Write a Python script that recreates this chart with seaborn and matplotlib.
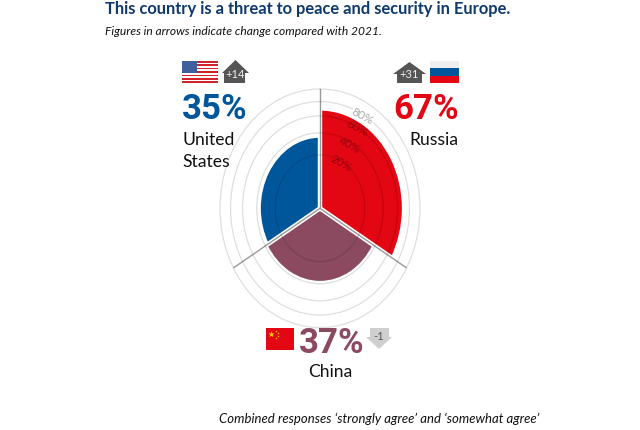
import numpy as np
import pandas as pd
import matplotlib
matplotlib.use("Agg")
import matplotlib.pyplot as plt
from matplotlib.patches import Polygon, Rectangle
import seaborn as sns

countries = ["Russia", "China", "United States"]
shares = [67, 37, 35]
changes = ["+31", "-1", "+14"]
bar_colors = ["#e30613", "#8b4a60", "#00569b"]
sector_centres = [60, 180, 300]
spoke_angles = [0, 120, 240]
ring_values = [20, 40, 60, 80, 100]
ring_labels = ["20%", "40%", "60%", "80%"]
label_radius = [19, 36.5, 59, 77]

title = "This country is a threat to peace and security in Europe."
subtitle = "Figures in arrows indicate change compared with 2021."
footer = "Combined responses \u2018strongly agree\u2019 and \u2018somewhat agree\u2019"

sns.set_theme(style="white")
plt.rcParams["font.family"] = ["Lato", "DejaVu Sans"]

df = pd.DataFrame({
    "theta": np.deg2rad(sector_centres),
    "share": shares,
    "country": countries,
})

fig = plt.figure(figsize=(6.4, 4.3), dpi=100)

# the original is stretched, so the polar axes is not kept round
ax = fig.add_axes([220 / 640, (430 - 327.6) / 430, 200 / 640, 238.6 / 430], projection="polar")
ax.set_aspect("auto")
ax.set_theta_zero_location("N")
ax.set_theta_direction(-1)
ax.set_rscale("function", functions=(np.sqrt, np.square))

sns.barplot(data=df, x="theta", y="share", hue="country", hue_order=countries,
            palette=dict(zip(countries, bar_colors)), native_scale=True, width=1,
            saturation=1, edgecolor="none", linewidth=0, legend=False, ax=ax)

ax.set_xlabel("")
ax.set_ylabel("")
ax.set_xlim(0, 2 * np.pi)
ax.set_ylim(0, 100)
ax.set_xticks(np.deg2rad(spoke_angles))
ax.set_yticks(ring_values)
ax.set_xticklabels([])
ax.set_yticklabels([])
ax.set_axisbelow(False)
ax.xaxis.grid(True, color="#9a9a9a", lw=1.0)
ax.yaxis.grid(True, color="black", alpha=0.13, lw=0.9)
for line in ax.yaxis.get_gridlines():
    line.set_clip_on(False)
ax.spines["polar"].set_visible(False)
ax.patch.set_alpha(0)

# white gap either side of each spoke
for a in spoke_angles:
    ax.plot([np.deg2rad(a)] * 2, [0, 100], color="white", lw=3.2, zorder=2.2, solid_capstyle="butt")

for r, lab in zip(label_radius, ring_labels):
    if lab == "80%":
        ax.text(np.deg2rad(29), r, lab, rotation=-28, ha="center", va="center", fontsize=8.5,
                color="#a8a8a8", rotation_mode="anchor", zorder=5,
                bbox=dict(fc="white", ec="none", pad=0.6))
    else:
        ax.text(np.deg2rad(29), r, lab, rotation=-28, ha="center", va="center", fontsize=8.5,
                color="black", alpha=0.33, rotation_mode="anchor", zorder=5)

# overlay in pixels for the texts, flags and arrows
over = fig.add_axes([0, 0, 1, 1], zorder=3)
over.set_xlim(0, 640)
over.set_ylim(430, 0)
over.axis("off")
over.patch.set_alpha(0)

over.text(105, 14, title, fontsize=11.9, fontweight="bold", color="#0f3a6e")
over.text(105, 35, subtitle, fontsize=8.65, style="italic", color="#111111")
over.text(219, 423, footer, fontsize=9.45, style="italic", color="#111111")


def big(x, y, s, color, ha):
    over.text(x, y, s, fontsize=25, fontweight="bold", color=color, ha=ha, family="Roboto")


big(182, 119, f"{shares[2]}%", bar_colors[2], "left")
big(459, 119, f"{shares[0]}%", bar_colors[0], "right")
big(299, 353, f"{shares[1]}%", bar_colors[1], "left")

over.text(182, 145, "United", fontsize=12.6, color="#111111")
over.text(182, 167, "States", fontsize=12.6, color="#111111")
over.text(458, 145, "Russia", fontsize=12.6, color="#111111", ha="right")
over.text(330, 377, "China", fontsize=12.6, color="#111111", ha="center")

# US flag
for i in range(13):
    over.add_patch(Rectangle((182, 61 + i * 22 / 13), 36, 22 / 13, fc="#d0232c" if i % 2 == 0 else "white", ec="none"))
over.add_patch(Rectangle((182, 61), 15, 12, fc="#3f5f9f", ec="none"))

# Russian flag
for i, c in enumerate(["#eeeeee", "#00569b", "#e30613"]):
    over.add_patch(Rectangle((430, 61 + i * 22 / 3), 29, 22 / 3, fc=c, ec="none"))

# Chinese flag
over.add_patch(Rectangle((266, 328), 28, 22, fc="#e30613", ec="none"))
over.scatter([271], [333.5], s=22, marker="*", c="#ffd200", lw=0)
over.scatter([276, 277.5, 277.5, 276], [331, 333, 336, 338], s=3, marker="*", c="#ffd200", lw=0)


def up_arrow(l, r, sl, sr, top, shoulder, bottom, label):
    mid = (l + r) / 2
    over.add_patch(Polygon([(mid, top), (r, shoulder), (sr, shoulder), (sr, bottom),
                            (sl, bottom), (sl, shoulder), (l, shoulder)], fc="#555555", ec="none"))
    over.text(mid, bottom - 8, label, color="#eeeeee", fontsize=8, ha="center", va="center")


up_arrow(222, 249, 224, 245, 60, 73, 83, changes[2])
up_arrow(393, 426, 397, 422, 62, 74, 83, changes[0])

over.add_patch(Polygon([(370, 328), (389, 328), (389, 337), (392, 337), (379, 349), (366, 337), (370, 337)],
                       fc="#cfcfcf", ec="none"))
over.text(379, 337, changes[1], color="#555555", fontsize=8, ha="center", va="center")

fig.savefig("out.png", dpi=100)
